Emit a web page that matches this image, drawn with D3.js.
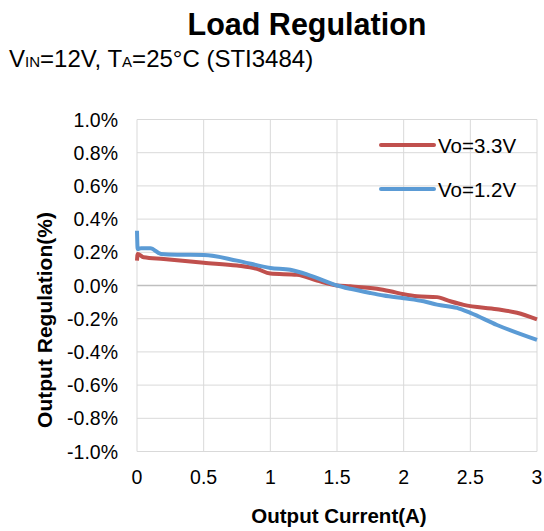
<!DOCTYPE html>
<html>
<head>
<meta charset="utf-8">
<script src="https://cdn.jsdelivr.net/npm/d3@7"></script>
<style>
  body { margin: 0; background: #fff; }
  text { font-family: "Liberation Sans", Arial, sans-serif; }
</style>
</head>
<body>
<svg id="chart"></svg>
<script>
// data (x = output current A, y = regulation %)
var seriesNames = ["Vo=3.3V", "Vo=1.2V"];
var seriesColors = ["#C0504D", "#5B9BD5"];

var current33 = [0, 0.005, 0.05, 0.2, 0.5, 0.75, 0.9, 1.0, 1.2, 1.35, 1.5, 1.6, 1.8, 1.9, 2.0, 2.1, 2.25, 2.35, 2.45, 2.7, 2.85, 3.0];
var reg33 = [0.15, 0.19, 0.17, 0.16, 0.137, 0.12, 0.1, 0.072, 0.065, 0.03, 0.0, -0.005, -0.02, -0.035, -0.053, -0.065, -0.07, -0.095, -0.117, -0.143, -0.164, -0.204];

var current12 = [0, 0.005, 0.03, 0.1, 0.18, 0.3, 0.5, 0.75, 1.0, 1.15, 1.3, 1.5, 1.6, 1.75, 1.85, 2.0, 2.15, 2.25, 2.4, 2.5, 2.7, 3.0];
var reg12 = [0.33, 0.22, 0.225, 0.225, 0.19, 0.185, 0.184, 0.15, 0.106, 0.095, 0.06, 0.0, -0.02, -0.045, -0.06, -0.077, -0.095, -0.115, -0.135, -0.165, -0.238, -0.328];

var xTicks = [0, 0.5, 1, 1.5, 2, 2.5, 3];
var yTicks = [1.0, 0.8, 0.6, 0.4, 0.2, 0.0, -0.2, -0.4, -0.6, -0.8, -1.0];

var width = 544, height = 531;
var svg = d3.select("#chart")
            .attr("width", width)
            .attr("height", height);

var margins = { top: 119.5, bottom: 79.5, left: 137, right: 7 };

var xScale = d3.scaleLinear()
               .domain([0, 3])
               .range([margins.left, width - margins.right]);

var yScale = d3.scaleLinear()
               .domain([-1, 1])
               .range([height - margins.bottom, margins.top]);

// gridlines
svg.append("g")
   .selectAll("line")
   .data(yTicks)
   .enter()
   .append("line")
   .attr("x1", xScale(0))
   .attr("x2", xScale(3))
   .attr("y1", function(d){ return yScale(d); })
   .attr("y2", function(d){ return yScale(d); })
   .attr("stroke", function(d){ return d === 0 ? "#bfbfbf" : "#d9d9d9"; })
   .attr("stroke-width", function(d){ return d === 0 ? 1.5 : 1; });

svg.append("g")
   .selectAll("line")
   .data(xTicks)
   .enter()
   .append("line")
   .attr("x1", function(d){ return xScale(d); })
   .attr("x2", function(d){ return xScale(d); })
   .attr("y1", yScale(1))
   .attr("y2", yScale(-1))
   .attr("stroke", "#d9d9d9")
   .attr("stroke-width", 1);

// tick labels (hyphen minus like the original)
svg.append("g")
   .selectAll("text")
   .data(yTicks)
   .enter()
   .append("text")
   .attr("x", 118)
   .attr("y", function(d){ return yScale(d) + 7; })
   .attr("text-anchor", "end")
   .attr("font-size", 19.5)
   .attr("fill", "#000")
   .text(function(d){ return d3.format(".1f")(d).replace("\u2212", "-") + "%"; });

svg.append("g")
   .selectAll("text")
   .data(xTicks)
   .enter()
   .append("text")
   .attr("x", function(d){ return xScale(d); })
   .attr("y", 484)
   .attr("text-anchor", "middle")
   .attr("font-size", 19.5)
   .attr("fill", "#000")
   .text(function(d){ return d; });

// lines
var line = d3.line()
             .x(function(d){ return xScale(d[0]); })
             .y(function(d){ return yScale(d[1]); })
             .curve(d3.curveMonotoneX);

var allSeries = [d3.zip(current33, reg33), d3.zip(current12, reg12)];

svg.append("g")
   .selectAll("path")
   .data(allSeries)
   .enter()
   .append("path")
   .attr("d", line)
   .attr("fill", "none")
   .attr("stroke", function(d, i){ return seriesColors[i]; })
   .attr("stroke-width", 4)
   .attr("stroke-linejoin", "round");

// legend
var legend = svg.append("g")
                .selectAll("g")
                .data(seriesNames)
                .enter()
                .append("g")
                .attr("transform", function(d, i){ return "translate(0," + (145 + i * 44) + ")"; });

legend.append("line")
      .attr("x1", 381).attr("x2", 434)
      .attr("y1", 0).attr("y2", 0)
      .attr("stroke", function(d, i){ return seriesColors[i]; })
      .attr("stroke-width", 4)
      .attr("stroke-linecap", "round");

legend.append("text")
      .attr("x", 438)
      .attr("y", 8)
      .attr("font-size", 20.5)
      .attr("fill", "#000")
      .text(function(d){ return d; });

// titles
svg.append("text")
   .attr("x", 307)
   .attr("y", 35)
   .attr("text-anchor", "middle")
   .attr("font-size", 30.5)
   .attr("font-weight", "bold")
   .text("Load Regulation");

var sub = svg.append("text")
             .attr("x", 9)
             .attr("y", 66.5)
             .attr("font-size", 24);
sub.append("tspan").text("V");
sub.append("tspan").attr("font-size", 15).text("IN");
sub.append("tspan").text("=12V, T");
sub.append("tspan").attr("font-size", 15).text("A");
sub.append("tspan").text("=25°C (STI3484)");

svg.append("text")
   .attr("x", 339)
   .attr("y", 523)
   .attr("text-anchor", "middle")
   .attr("font-size", 20.5)
   .attr("font-weight", "bold")
   .text("Output Current(A)");

svg.append("text")
   .attr("transform", "translate(52,320) rotate(-90)")
   .attr("text-anchor", "middle")
   .attr("font-size", 21)
   .attr("font-weight", "bold")
   .text("Output Regulation(%)");
</script>
</body>
</html>
